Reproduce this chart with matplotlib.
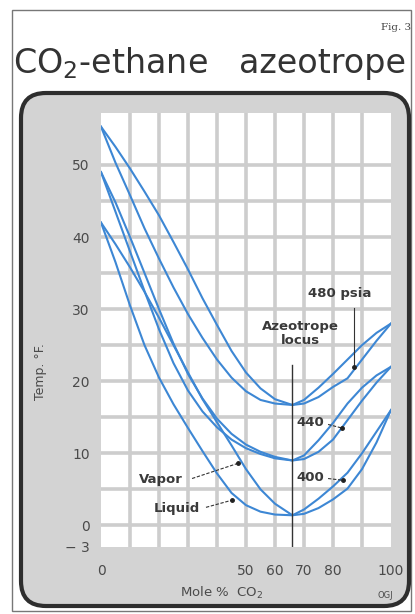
import matplotlib.pyplot as plt
from matplotlib.patches import FancyBboxPatch, Rectangle

# Mole % CO2 at which the curves were read
mole_co2 = [0, 5, 10, 15, 20, 25, 30, 35, 40, 45, 50, 55, 60, 66, 70, 75, 80, 85, 90, 95, 100]

# Temperature, deg F
vapor_480 = [55.3, 52.5, 49.5, 46.3, 43.0, 39.3, 35.5, 31.5, 27.8, 24.2, 21.2, 19.0, 17.5, 16.7,
             17.4, 19.1, 21.0, 23.0, 25.0, 26.7, 28.0]
liquid_480 = [55.3, 50.3, 45.8, 41.2, 37.0, 33.0, 29.3, 26.0, 23.0, 20.5, 18.6, 17.4, 16.9, 16.7,
              16.9, 17.8, 19.2, 20.4, 23.0, 25.6, 28.0]
vapor_440 = [49.0, 44.8, 40.0, 35.0, 30.0, 25.2, 21.0, 17.6, 14.8, 12.7, 11.2, 10.2, 9.5, 9.0,
             9.7, 11.8, 14.2, 16.9, 19.1, 20.8, 22.0]
liquid_440 = [49.0, 43.5, 38.0, 32.5, 27.2, 22.5, 18.7, 15.8, 13.6, 11.9, 10.7, 9.9, 9.3, 9.0,
              9.2, 10.2, 11.9, 14.6, 17.3, 19.8, 22.0]
vapor_400 = [42.0, 39.0, 35.8, 32.4, 28.8, 25.0, 21.2, 17.5, 14.3, 11.1, 7.8, 5.0, 3.0, 1.4,
             2.2, 3.7, 5.4, 7.3, 10.0, 13.0, 16.0]
liquid_400 = [42.0, 36.5, 30.5, 25.0, 20.5, 16.8, 13.5, 10.3, 7.2, 4.5, 2.8, 1.9, 1.5, 1.4,
              1.6, 2.4, 3.6, 5.1, 7.8, 11.5, 16.0]

azeo_x = 66
azeo_top = 22.2

xtick_vals = [0, 50, 60, 70, 80, 100]
ytick_vals = [-3, 0, 10, 20, 30, 40, 50]
ytick_text = ['\u2212 3', '0', '10', '20', '30', '40', '50']
grid_x = [10, 20, 30, 40, 50, 60, 70, 80, 90]
grid_y = [0, 5, 10, 15, 20, 25, 30, 35, 40, 45, 50]

blue = '#3d87d4'
W, H = 415, 614

fig = plt.figure(figsize=(W / 100, H / 100), dpi=100)
fig.patch.set_facecolor('white')

# outer thin frame
fig.patches.append(Rectangle((12 / W, 3 / H), 399 / W, 601 / H, transform=fig.transFigure,
                             fill=False, edgecolor='#777777', linewidth=1.0, zorder=-2))
# rounded gray panel
fig.patches.append(FancyBboxPatch((21 / W, 8 / H), 388 / W, 513 / H,
                                  boxstyle='round,pad=0,rounding_size=0.06',
                                  mutation_aspect=W / H,
                                  transform=fig.transFigure, facecolor='#d3d3d3',
                                  edgecolor='#2e2e2e', linewidth=3.0, zorder=-1))

fig.text(411 / W, 1 - 28 / H, 'Fig. 3', ha='right', va='center', fontsize=7.5,
         family='DejaVu Serif', color='#444444')
fig.text(13 / W, 1 - 73 / H, 'CO$_2$-ethane', ha='left', va='baseline',
         fontsize=24, color='#333333', family='DejaVu Sans')
fig.text(406 / W, 1 - 73 / H, 'azeotrope', ha='right', va='baseline',
         fontsize=24, color='#333333', family='DejaVu Sans')

ax = fig.add_axes([101 / W, (H - 547) / H, 290 / W, 434 / H])
ax.set_facecolor('white')
ax.set_xlim(0, 100)
ax.set_ylim(-3, 57.2)
for s in ax.spines.values():
    s.set_visible(False)

for gx in grid_x:
    ax.axvline(gx, color='#cdcdcd', linewidth=2.6, zorder=1)
for gy in grid_y:
    ax.axhline(gy, color='#cdcdcd', linewidth=2.6, zorder=1)

for t in [vapor_480, liquid_480, vapor_440, liquid_440, vapor_400, liquid_400]:
    ax.plot(mole_co2, t, color=blue, linewidth=1.5, zorder=3)

ax.plot([azeo_x, azeo_x], [-3, azeo_top], color='#333333', linewidth=1.0, zorder=4)

ax.set_xticks(xtick_vals)
ax.set_xticklabels([str(v) for v in xtick_vals])
ax.set_yticks(ytick_vals)
ax.set_yticklabels(ytick_text)
ax.tick_params(length=0, labelsize=10, labelcolor='#4a4a4a')
ax.tick_params(axis='x', pad=12)
ax.tick_params(axis='y', pad=8)

fig.text(40 / W, 1 - 372 / H, 'Temp. \u00b0F.', rotation=90, ha='center', va='center',
         fontsize=9, color='#4a4a4a')
fig.text(222 / W, 1 - 593 / H, 'Mole %  CO$_2$', ha='center', va='center',
         fontsize=9.5, color='#4a4a4a')
fig.text(385 / W, 1 - 595 / H, 'OGJ', ha='center', va='center', fontsize=6,
         color='#4a4a4a')

bold = dict(fontsize=9.5, fontweight='bold', color='#3a3a3a', zorder=5)
ax.text(82.4, 32.2, '480 psia', ha='center', va='center', **bold)
ax.text(68.6, 26.6, 'Azeotrope\nlocus', ha='center', va='center', linespacing=1.05, **bold)
ax.text(67.5, 14.3, '440', ha='left', va='center', **bold)
ax.text(67.5, 6.7, '400', ha='left', va='center', **bold)
ax.text(20.7, 6.3, 'Vapor', ha='center', va='center', **bold)
ax.text(26.0, 2.4, 'Liquid', ha='center', va='center', **bold)

ax.plot([87.2, 87.2], [30.1, 21.9], color='#333333', linewidth=0.8, zorder=5)
lead = dict(color='#333333', linewidth=0.8, linestyle=(0, (3, 1.5)), zorder=5)
ax.plot([78.3, 83.1], [14.0, 13.5], **lead)
ax.plot([78.3, 83.5], [6.5, 6.25], **lead)
ax.plot([31.4, 47.2], [6.5, 8.6], **lead)
ax.plot([36.2, 45.2], [2.5, 3.5], **lead)
ax.plot([87.2, 83.1, 83.5, 47.2, 45.2], [21.9, 13.5, 6.25, 8.6, 3.5], 'o', color='#222222',
        markersize=2.5, zorder=6)

fig.savefig('out.png', dpi=100)
